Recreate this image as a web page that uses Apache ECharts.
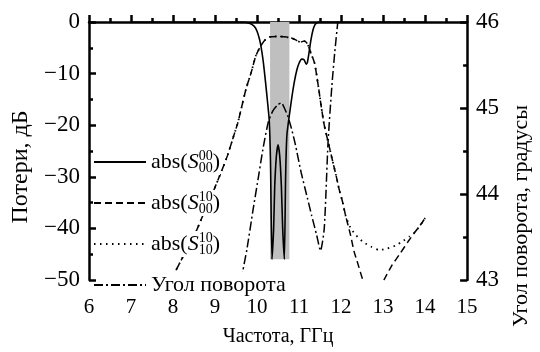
<!DOCTYPE html>
<html>
<head>
<meta charset="utf-8">
<script src="https://cdn.jsdelivr.net/npm/echarts@6/dist/echarts.min.js"></script>
<style>
  html, body { margin: 0; padding: 0; background: #fff; }
</style>
</head>
<body>
<div id="chart" style="width: 540px; height: 352px"></div>
<script>
// S00_00 (сплошная)
const freqS00 = [7, 8, 9, 9.5, 9.65, 9.8, 9.93, 10.0, 10.06, 10.1, 10.15, 10.2, 10.25, 10.29, 10.32, 10.355,
  10.395, 10.42, 10.46, 10.5, 10.54, 10.58, 10.61, 10.65, 10.68, 10.71, 10.77, 10.83, 10.89, 10.95,
  11.0, 11.06, 11.12, 11.17, 11.2, 11.24, 11.28, 11.33, 11.38, 11.45, 11.5, 12, 13, 14];
const lossS00 = [0, 0, 0, 0, 0, -0.2, -0.8, -1.8, -3.4, -5, -7.8, -11.5, -15.5, -19, -27, -46,
  -40, -32, -26, -23.8, -26, -32, -40, -46, -30, -22, -18, -14.5, -11.5, -9.2,
  -8, -7.2, -7.3, -8.2, -7.8, -5.8, -3.6, -1.6, -0.5, -0.05, 0, 0, 0, 0];

// S10_00 (штрих)
const freqS10a = [7.95, 8.25, 8.5, 8.71, 8.95, 9.17, 9.3, 9.42, 9.54, 9.63, 9.74, 9.86, 9.97, 10.09, 10.2,
  10.3, 10.5, 10.7, 10.85, 10.95, 11.03, 11.12, 11.2, 11.28, 11.37, 11.46, 11.53, 11.6, 11.7, 11.8,
  11.88, 11.95, 12.04, 12.11, 12.22, 12.31, 12.38, 12.52, 12.75, 13.02, 13.2, 13.41, 13.6, 13.76, 13.9, 14];
const lossS10a = [-50, -45.3, -41.5, -37.5, -33, -28.6, -25.8, -22.7, -19.6, -16.6, -12.9, -9.8, -6.6, -4.6, -3.4,
  -2.9, -2.8, -2.9, -3.2, -3.6, -3.9, -3.7, -4.2, -6, -8, -12.5, -16.5, -20, -23.5, -27,
  -29.7, -32.3, -35, -37.6, -41.1, -44.5, -46.3, -50, -54, -50, -47.3, -44.8, -42.5, -40.7, -39.2, -38];

// S10_10 (точки)
const freqS10b = [7.95, 8.25, 8.5, 8.71, 8.95, 9.17, 9.3, 9.42, 9.54, 9.63, 9.74, 9.86, 9.97, 10.09, 10.2,
  10.3, 10.5, 10.7, 10.85, 10.95, 11.03, 11.12, 11.2, 11.28, 11.37, 11.46, 11.53, 11.6, 11.7, 11.8,
  11.88, 11.95, 12.04, 12.11, 12.22, 12.34, 12.52, 12.73, 12.91, 13.09, 13.3, 13.48, 13.62, 13.76, 13.9, 14];
const lossS10b = [-50, -45.3, -41.5, -37.5, -33, -28.6, -25.8, -22.7, -19.6, -16.6, -12.9, -9.8, -6.6, -4.6, -3.4,
  -2.9, -2.8, -2.9, -3.2, -3.6, -3.9, -3.7, -4.2, -6, -8, -12.5, -16.5, -20, -23.5, -27,
  -29.7, -32.3, -35, -37.6, -39.8, -41.2, -42.6, -43.6, -44.2, -43.9, -43.3, -42.4, -41.6, -40.7, -39.2, -38];

// угол поворота, градусы (штрих-пунктир, правая ось)
const freqAngle = [9.5, 9.66, 9.76, 9.9, 10.04, 10.15, 10.27, 10.38, 10.5, 10.58, 10.65, 10.73, 10.82, 10.91,
  11.05, 11.2, 11.3, 11.42, 11.51, 11.6, 11.69, 11.78, 11.85, 11.92, 12.0];
const angleDeg = [42.6, 43.1, 43.36, 43.8, 44.22, 44.55, 44.84, 44.97, 45.04, 45.06, 45.0, 44.91, 44.76, 44.58,
  44.25, 43.95, 43.75, 43.52, 43.34, 43.6, 44.6, 45.25, 45.65, 45.99, 46.4];

// серая полоса
const bandFrom = 10.31;
const bandTo = 10.77;
const bandTop = 0;
const bandBottom = -46;

const seriesNames = ["S00_00", "S10_00", "S10_10", "Угол поворота"];
const legendLabels = {
  S00_00: "{t|abs(}{s|S}{sup|00}{sub|00}{t|)}",
  S10_00: "{t|abs(}{s|S}{sup|10}{sub|00}{t|)}",
  S10_10: "{t|abs(}{s|S}{sup|10}{sub|10}{t|)}",
  "Угол поворота": "{t|Угол поворота}",
};

const font = "'Liberation Serif', 'DejaVu Serif', serif";

function zip(xs, ys) {
  return xs.map((x, i) => [x, ys[i]]);
}
function minus(v) {
  return String(v).replace("-", "\u2212");
}

let myChart = echarts.init(document.getElementById("chart"));

let axisLine = { show: true, lineStyle: { color: "#000", width: 2.5 } };
let axisTick = { show: true, inside: true, length: 7, lineStyle: { color: "#000", width: 2.5 } };
let minorTick = { show: true, splitNumber: 2, length: 4, lineStyle: { color: "#000", width: 2.5 } };

let option = {
  backgroundColor: "#fff",
  animation: false,
  grid: { left: 89, right: 59, top: 22, bottom: 56 },
  legend: {
    orient: "vertical",
    left: 88,
    top: 144,
    itemWidth: 52,
    itemHeight: 14,
    itemGap: 15,
    data: seriesNames,
    itemStyle: { opacity: 0 },
    formatter: (name) => legendLabels[name],
    textStyle: {
      color: "#000",
      fontFamily: font,
      backgroundColor: "#fff",
      rich: {
        t: { fontFamily: font, fontSize: 22, lineHeight: 26, color: "#000" },
        s: { fontFamily: font, fontSize: 22, lineHeight: 26, fontStyle: "italic", color: "#000" },
        sup: { fontFamily: font, fontSize: 14, lineHeight: 14, width: 0, verticalAlign: "top", color: "#000" },
        sub: { fontFamily: font, fontSize: 14, lineHeight: 14, verticalAlign: "bottom", color: "#000" },
      },
    },
  },
  xAxis: {
    type: "value",
    min: 6,
    max: 15,
    interval: 1,
    name: "Частота, ГГц",
    nameLocation: "middle",
    nameGap: 47,
    nameTextStyle: { fontFamily: font, fontSize: 20, color: "#000" },
    axisLine: axisLine,
    axisTick: axisTick,
    minorTick: minorTick,
    splitLine: { show: false },
    axisLabel: { fontFamily: font, fontSize: 21, color: "#000", margin: 17 },
  },
  yAxis: [
    {
      type: "value",
      position: "left",
      min: -50,
      max: 0,
      interval: 10,
      name: "Потери, дБ",
      nameLocation: "middle",
      nameGap: 56,
      nameTextStyle: { fontFamily: font, fontSize: 24, color: "#000", padding: [0, 32, 0, 0] },
      axisLine: axisLine,
      axisTick: axisTick,
      minorTick: minorTick,
      splitLine: { show: false },
      axisLabel: { fontFamily: font, fontSize: 23, color: "#000", margin: 9, formatter: minus },
    },
    {
      type: "value",
      position: "right",
      min: 43,
      max: 46,
      interval: 1,
      name: "Угол поворота, градусы",
      nameLocation: "middle",
      nameGap: 38,
      nameTextStyle: { fontFamily: font, fontSize: 22, color: "#000", padding: [0, 130, 0, 0] },
      axisLine: axisLine,
      axisTick: axisTick,
      minorTick: minorTick,
      splitLine: { show: false },
      axisLabel: { fontFamily: font, fontSize: 23, color: "#000", margin: 9 },
    },
  ],
  series: [
    {
      // только серая полоса
      type: "line",
      data: [],
      silent: true,
      markArea: {
        silent: true,
        itemStyle: { color: "#bfbfbf" },
        data: [[{ xAxis: bandFrom, yAxis: bandTop }, { xAxis: bandTo, yAxis: bandBottom }]],
      },
    },
    {
      name: "S00_00",
      type: "line",
      yAxisIndex: 0,
      data: zip(freqS00, lossS00),
      symbol: "none",
      smooth: 0.2,
      color: "#000",
      lineStyle: { color: "#000", width: 1.6, type: "solid" },
    },
    {
      name: "S10_00",
      type: "line",
      yAxisIndex: 0,
      data: zip(freqS10a, lossS10a),
      symbol: "none",
      smooth: 0.2,
      color: "#000",
      lineStyle: { color: "#000", width: 1.5, type: [7, 4] },
    },
    {
      name: "S10_10",
      type: "line",
      yAxisIndex: 0,
      data: zip(freqS10b, lossS10b),
      symbol: "none",
      smooth: 0.2,
      color: "#000",
      lineStyle: { color: "#000", width: 1.8, type: [1.5, 4.5] },
    },
    {
      name: "Угол поворота",
      type: "line",
      yAxisIndex: 1,
      data: zip(freqAngle, angleDeg),
      symbol: "none",
      smooth: 0.2,
      color: "#000",
      lineStyle: { color: "#000", width: 1.5, type: [9, 3, 2, 3] },
    },
  ],
};

window.onresize = function () {
  myChart.resize();
};
myChart.setOption(option);
</script>
</body>
</html>
